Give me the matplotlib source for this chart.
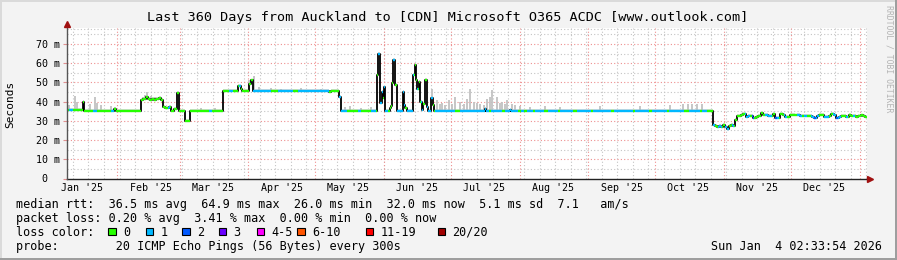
import numpy as np
import matplotlib
matplotlib.use("Agg")
import matplotlib.pyplot as plt
import matplotlib.dates as mdates
from matplotlib.patches import Rectangle
from datetime import datetime, timedelta

# window: 360 days ending Sun Jan 4 02:33:54 2026, x values are days since start
end = datetime(2026, 1, 4, 2, 33, 54)
start = end - timedelta(days=360)

# median rtt (ms), step changes
med_day = [0, 7.2, 7.9, 21.5, 22.2, 33.5, 34.5, 35.6, 36.6, 37.5, 38.4, 39.4, 40.4, 41.5,
           42.5, 43.3, 44.5, 46.0, 47.0, 48.5, 49.5, 50.5, 53.1, 55.5, 70.3, 77.2, 78.3, 79.0,
           82.0, 82.8, 84.0, 118.0, 119.0, 122.8, 123.3, 139.5, 140.0, 141.2, 141.8, 142.4,
           142.9, 143.5, 145.5, 146.0, 146.6, 147.0, 148.0, 148.6, 151.2, 152.0, 152.5, 153.0,
           156.0, 156.6, 157.3, 157.8, 158.4, 159.2, 159.8, 160.5, 161.4, 162.3, 162.8, 164.2,
           164.8, 165.5, 188.3, 188.9, 199.5, 200.0, 202.7, 290.7, 291.6, 292.5, 293.4, 294.3,
           295.2, 296.1, 297.0, 297.9, 298.8, 299.7, 300.6, 301.5, 302.4, 303.5, 304.6, 305.7,
           306.8, 307.9, 309.0, 310.1, 311.2, 312.3, 313.4, 314.5, 315.6, 316.7, 317.8, 318.9,
           320.0, 321.1, 322.2, 323.3, 324.4, 325.5, 326.6, 327.7, 328.8, 329.9, 331.0, 332.1,
           333.2, 334.3, 335.4, 336.5, 337.6, 338.7, 339.8, 340.9, 342.0, 343.1, 344.2, 345.3,
           346.4, 347.5, 348.6, 349.7, 350.8, 351.9, 353.0, 354.1, 355.2, 356.3, 357.4, 358.5,
           359.4]
med_ms = [35.6, 40.0, 35.1, 36.3, 35.1, 40.8, 41.6, 42.2, 41.2, 40.6, 41.5, 40.7, 41.2, 41.8,
          40.9, 37.3, 36.8, 37.2, 35.2, 36.3, 44.3, 35.3, 29.8, 35.1, 45.7, 48.0, 46.8, 45.6,
          49.0, 51.0, 45.6, 44.9, 45.6, 42.5, 35.2, 53.8, 64.9, 39.4, 45.0, 41.7,
          47.6, 35.3, 36.5, 37.8, 49.8, 61.6, 48.5, 35.3, 45.1, 38.0, 36.5, 35.3,
          53.8, 59.0, 51.0, 46.5, 50.0, 39.8, 35.5, 39.0, 51.5, 37.3, 35.2, 41.7,
          38.2, 35.2, 36.0, 35.2, 35.8, 35.2, 34.9, 27.6, 27.2, 26.6, 27.5, 26.8,
          27.9, 27.0, 26.0, 27.4, 27.8, 27.1, 30.4, 32.6, 32.5, 33.1, 33.4, 32.1,
          32.3, 32.5, 31.6, 32.0, 32.6, 34.1, 33.0, 32.9, 32.4, 32.6, 33.8, 31.3,
          31.6, 33.8, 33.2, 32.1, 32.2, 33.0, 33.1, 32.8, 33.0, 32.6, 32.5, 32.6,
          32.4, 32.5, 32.0, 31.4, 32.3, 33.0, 32.9, 32.2, 32.0, 32.3, 33.5, 32.8,
          31.6, 32.1, 32.3, 32.5, 31.8, 33.2, 32.4, 32.6, 32.2, 32.5, 32.8, 32.3,
          32.0]

# packet loss (pings lost of 20), step changes
loss_day = [0, 1.0, 3.0, 12.0, 13.8, 19.8, 21.2, 45.5, 46.5, 64.0, 65.5, 73.0, 75.0, 77.6,
            78.6, 84.0, 91.8, 95.0, 102.0, 104.0, 118.0, 122.5, 126.3, 131.0, 132.5, 137.0,
            139.3, 140.0, 142.3, 142.8, 144.5, 146.9, 147.8, 148.5, 152.3, 153.2, 156.5, 157.6,
            158.3, 159.6, 160.3, 162.1, 164.9, 166.0, 175.0, 177.0, 190.0, 191.0, 196.0, 197.5,
            203.0, 204.5, 206.0, 207.0, 210.0, 211.0, 215.0, 216.5, 221.0, 222.0, 228.0, 229.5,
            236.0, 237.0, 245.0, 246.5, 255.0, 256.0, 262.0, 263.5, 270.0, 271.0, 278.0, 280.0,
            285.0, 286.0, 288.0, 290.7, 292.0, 293.0, 295.0, 296.5, 298.0, 299.5, 300.5, 305.5,
            307.5, 308.5, 309.5, 314.3, 317.5, 318.8, 319.8, 320.8, 323.0, 324.0, 328.6, 330.8,
            332.0, 333.0, 335.2, 336.3, 337.2, 338.5, 340.7, 342.9, 345.0, 346.2, 347.2, 348.5,
            350.6, 351.7, 354.0, 355.0]
loss_n = [0, 1, 0, 1, 0, 1, 0, 1, 0, 1, 0, 1, 0, 1,
          0, 1, 0, 1, 0, 1, 0, 1, 0, 1, 0, 1,
          0, 1, 0, 1, 0, 1, 0, 1, 0, 1, 0, 1,
          0, 1, 0, 1, 0, 1, 0, 1, 0, 1, 0, 1,
          0, 1, 0, 1, 0, 1, 0, 1, 0, 1, 0, 1,
          0, 1, 0, 1, 0, 1, 0, 1, 0, 1, 0, 1,
          0, 1, 0, 1, 0, 1, 0, 1, 0, 1, 0, 1,
          0, 2, 0, 1, 0, 2, 1, 0, 1, 0, 1, 0,
          1, 0, 1, 2, 1, 0, 1, 0, 1, 2, 1, 0,
          1, 0, 1, 0]

# smoke spikes (highest ping, ms)
smoke_day = [1.0, 3.6, 4.5, 10.5, 12.6, 13.5, 15.3, 19.8, 21.6, 34.2, 35.5, 36.3, 37.8, 40.0,
             41.4, 60.3, 67.0, 82.0, 84.3, 86.4, 91.8, 96.3, 105.3, 114.3, 125.5, 127.7, 132.3,
             136.8, 164.5, 166.8, 167.9, 169.0, 170.5, 172.0, 173.5, 175.0, 177.2, 178.7, 180.2,
             181.7, 183.2, 184.7, 186.2, 187.7, 189.3, 190.7, 191.5, 193.7, 194.9, 196.0, 197.1,
             198.2, 200.5, 201.8, 204.2, 208.7, 215.5, 222.2, 240.2, 258.2, 271.7, 277.6, 279.8,
             281.6, 283.9, 286.1]
smoke_top = [38.2, 42.9, 40.0, 38.5, 42.5, 39.5, 38.0, 37.5, 37.0, 42.5, 43.4, 45.1, 43.0, 42.5,
             42.5, 36.5, 36.5, 51.2, 53.5, 47.5, 47.0, 46.8, 47.0, 46.8, 37.0, 37.5, 36.8,
             37.0, 46.8, 40.8, 38.5, 39.5, 38.0, 40.8, 39.0, 42.5, 40.0, 38.5, 41.5,
             46.4, 40.0, 39.5, 39.0, 38.0, 41.2, 42.5, 46.0, 42.5, 39.5, 40.0, 38.5,
             41.0, 39.0, 38.0, 37.5, 37.2, 37.5, 37.0, 37.5, 37.5, 38.0, 39.0, 38.5,
             39.0, 38.5, 39.0]

loss_labels = ["0", "1", "2", "3", "4-5", "6-10", "11-19", "20/20"]
loss_colors = ["#26ff00", "#00b8ff", "#0059ff", "#6a00ff", "#ff00ff", "#ff5500", "#ff0000", "#a10000"]

title = "Last 360 Days from Auckland to [CDN] Microsoft O365 ACDC [www.outlook.com]"
rtt_line = "median rtt:  36.5 ms avg  64.9 ms max  26.0 ms min  32.0 ms now  5.1 ms sd  7.1   am/s"
loss_line = "packet loss: 0.20 % avg  3.41 % max  0.00 % min  0.00 % now"
probe_line = "probe:        20 ICMP Echo Pings (56 Bytes) every 300s"
stamp = "Sun Jan  4 02:33:54 2026"

mono = "DejaVu Sans Mono"
W, H = 897, 260


def fx(px):
    return px / W


def fy(py):
    return 1 - py / H


fig = plt.figure(figsize=(W / 100, H / 100), dpi=100, facecolor="#f3f3f3")
# 3d frame
fig.add_artist(Rectangle((0, fy(2)), 1, 2 / H, transform=fig.transFigure, color="#dadada", lw=0))
fig.add_artist(Rectangle((0, 0), 2 / W, 1, transform=fig.transFigure, color="#dadada", lw=0))
fig.add_artist(Rectangle((0, 0), 1, 2 / H, transform=fig.transFigure, color="#9e9e9e", lw=0))
fig.add_artist(Rectangle((fx(W - 2.5), 0), 2.5 / W, 1, transform=fig.transFigure, color="#9e9e9e", lw=0))

ax = fig.add_axes([fx(66.5), fy(178.5), 800 / W, 150.5 / H])
ax.set_facecolor("white")
t0 = mdates.date2num(start)
t1 = mdates.date2num(end)
ymax = 78.3
ax.set_xlim(t0, t1)
ax.set_ylim(0, ymax)

# grid
dot = (0, (1, 2))
sunday = datetime(2025, 1, 12)
while sunday < end:
    ax.axvline(mdates.date2num(sunday), color="#c4c4c4", lw=0.8, ls=dot, zorder=0)
    sunday += timedelta(days=7)
for v in range(5, 80, 10):
    ax.axhline(v, color="#c4c4c4", lw=0.8, ls=dot, zorder=0)
ax.axhline(ymax - 0.3, color="#c4c4c4", lw=0.8, ls=dot, zorder=0)
for v in range(10, 80, 10):
    ax.axhline(v, color="#ee8f8f", lw=0.8, ls=dot, zorder=0.5)
month_starts = [datetime(2025, m, 1) for m in range(2, 13)] + [datetime(2026, 1, 1)]
for m in month_starts:
    ax.axvline(mdates.date2num(m), color="#ee8f8f", lw=0.8, ls=dot, zorder=0.5)

# median series
d = np.array(med_day + [360.0])
v = np.array(med_ms + [med_ms[-1]])


def median_at(days):
    idx = np.searchsorted(med_day, days, side="right") - 1
    return np.array(med_ms)[idx]


# smoke
ax.fill_between(t0 + d, v, v + 1.0, step="post", color="#dcdcdc", lw=0, zorder=1)
ax.vlines(t0 + np.array(smoke_day), median_at(smoke_day), smoke_top, color="#c2c2c2", lw=1.3, zorder=1.2)

# median line: black steps with loss coloured flats on top
ax.step(t0 + d, v, where="post", color="black", lw=1.3, zorder=2)
edges = np.union1d(med_day, loss_day)
edges = edges[edges < 360]
seg_end = np.append(edges[1:], 360)
seg_val = median_at(edges)
seg_loss = np.array(loss_n)[np.searchsorted(loss_day, edges, side="right") - 1]
ax.hlines(seg_val, t0 + edges, t0 + seg_end, colors=[loss_colors[k] for k in seg_loss], lw=1.7, zorder=3)

# axes
for s in ax.spines.values():
    s.set_visible(False)
ax.plot([0, 1.004], [0, 0], transform=ax.transAxes, color="#222222", lw=1, clip_on=False, zorder=4)
ax.plot([0, 0], [0, 1.0], transform=ax.transAxes, color="#555555", lw=1, clip_on=False, zorder=4)
ax.plot([1.0045], [0], marker=">", ms=4, color="#a01010", transform=ax.transAxes, clip_on=False, zorder=5)
ax.plot([0], [1.028], marker="^", ms=4, color="#a01010", transform=ax.transAxes, clip_on=False, zorder=5)

yt = list(range(0, 80, 10))
ax.set_yticks(yt)
ax.set_yticklabels(["0  "] + [f"{t} m" for t in yt[1:]], family=mono, fontsize=7.2)
ax.tick_params(axis="y", length=3, width=0.8, color="#e09090", pad=2)
mid = [mdates.date2num(datetime(2025, m, 16)) for m in range(1, 13)]
ax.set_xticks(mid)
ax.set_xticklabels([datetime(2025, m, 1).strftime("%b '%y") for m in range(1, 13)], family=mono, fontsize=7.2)
ax.tick_params(axis="x", length=0, pad=3.5)

# texts
fig.text(fx(447.5), fy(18), title, ha="center", va="center", family=mono, fontsize=9.7)
fig.text(fx(10.5), fy(104), "Seconds", rotation=90, ha="center", va="center", family=mono, fontsize=8)
fig.text(fx(889), fy(5), "RRDTOOL / TOBI OETIKER", rotation=270, ha="center", va="top",
         family=mono, fontsize=5.9, color="#b4b4b4")

fig.text(fx(16), fy(204.3), rtt_line, ha="left", va="center", family=mono, fontsize=8.5)
fig.text(fx(16), fy(218.3), loss_line, ha="left", va="center", family=mono, fontsize=8.5)
fig.text(fx(16), fy(232.3), "loss color:", ha="left", va="center", family=mono, fontsize=8.5)
fig.text(fx(16), fy(246.3), probe_line, ha="left", va="center", family=mono, fontsize=8.5)
fig.text(fx(882), fy(246.3), stamp, ha="right", va="center", family=mono, fontsize=8.5)

box_x = [108.3, 145.7, 182.3, 219.0, 256.7, 297.3, 365.7, 437.7]
for bx, col, lab in zip(box_x, loss_colors, loss_labels):
    fig.add_artist(Rectangle((fx(bx), fy(235.0)), 7.3 / W, 7.3 / H, transform=fig.transFigure,
                             facecolor=col, edgecolor="black", lw=0.8))
    fig.text(fx(bx + 14.5), fy(232.3), lab, ha="left", va="center", family=mono, fontsize=8.5)

fig.savefig("out.png", dpi=100, facecolor=fig.get_facecolor())
